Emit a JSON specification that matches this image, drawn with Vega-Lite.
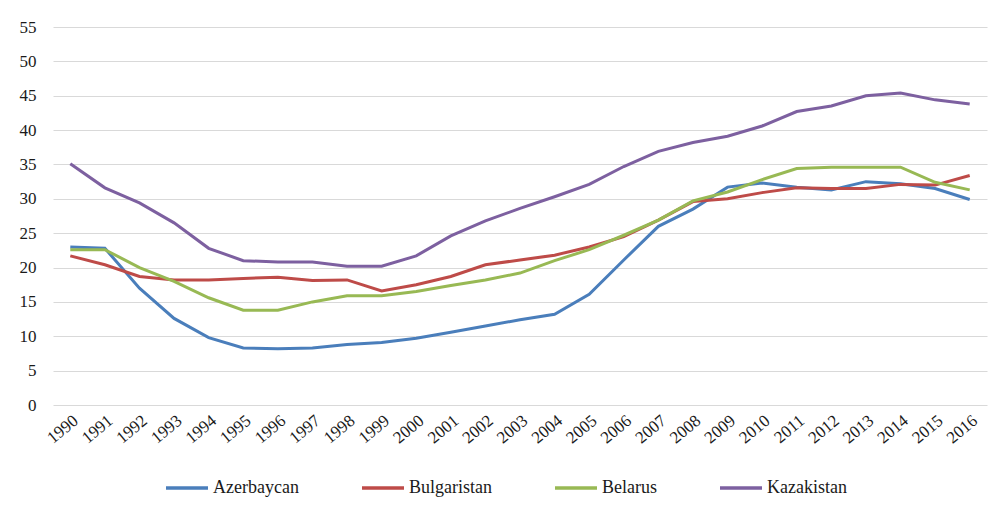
{
  "$schema": "https://vega.github.io/schema/vega-lite/v6.json",
  "width": 934,
  "height": 378,
  "autosize": {"type": "none"},
  "padding": {"left": 53, "top": 27, "right": 13, "bottom": 110},
  "background": "white",
  "config": {"view": {"stroke": null}, "font": "'Times New Roman', 'Liberation Serif', 'DejaVu Serif', serif",
             "axis": {"labelFont": "'Times New Roman', 'Liberation Serif', 'DejaVu Serif', serif"},
             "legend": {"labelFont": "'Times New Roman', 'Liberation Serif', 'DejaVu Serif', serif"}},
  "data": {"values": [
    {"year": "1990", "country": "Azerbaycan", "value": 23.0},
    {"year": "1991", "country": "Azerbaycan", "value": 22.8},
    {"year": "1992", "country": "Azerbaycan", "value": 17.0},
    {"year": "1993", "country": "Azerbaycan", "value": 12.6},
    {"year": "1994", "country": "Azerbaycan", "value": 9.8},
    {"year": "1995", "country": "Azerbaycan", "value": 8.3},
    {"year": "1996", "country": "Azerbaycan", "value": 8.2},
    {"year": "1997", "country": "Azerbaycan", "value": 8.3},
    {"year": "1998", "country": "Azerbaycan", "value": 8.8},
    {"year": "1999", "country": "Azerbaycan", "value": 9.1},
    {"year": "2000", "country": "Azerbaycan", "value": 9.7},
    {"year": "2001", "country": "Azerbaycan", "value": 10.6},
    {"year": "2002", "country": "Azerbaycan", "value": 11.5},
    {"year": "2003", "country": "Azerbaycan", "value": 12.4},
    {"year": "2004", "country": "Azerbaycan", "value": 13.2},
    {"year": "2005", "country": "Azerbaycan", "value": 16.1},
    {"year": "2006", "country": "Azerbaycan", "value": 21.1},
    {"year": "2007", "country": "Azerbaycan", "value": 26.0},
    {"year": "2008", "country": "Azerbaycan", "value": 28.5},
    {"year": "2009", "country": "Azerbaycan", "value": 31.7},
    {"year": "2010", "country": "Azerbaycan", "value": 32.3},
    {"year": "2011", "country": "Azerbaycan", "value": 31.7},
    {"year": "2012", "country": "Azerbaycan", "value": 31.3},
    {"year": "2013", "country": "Azerbaycan", "value": 32.5},
    {"year": "2014", "country": "Azerbaycan", "value": 32.2},
    {"year": "2015", "country": "Azerbaycan", "value": 31.5},
    {"year": "2016", "country": "Azerbaycan", "value": 29.9},
    {"year": "1990", "country": "Bulgaristan", "value": 21.7},
    {"year": "1991", "country": "Bulgaristan", "value": 20.4},
    {"year": "1992", "country": "Bulgaristan", "value": 18.7},
    {"year": "1993", "country": "Bulgaristan", "value": 18.2},
    {"year": "1994", "country": "Bulgaristan", "value": 18.2},
    {"year": "1995", "country": "Bulgaristan", "value": 18.4},
    {"year": "1996", "country": "Bulgaristan", "value": 18.6},
    {"year": "1997", "country": "Bulgaristan", "value": 18.1},
    {"year": "1998", "country": "Bulgaristan", "value": 18.2},
    {"year": "1999", "country": "Bulgaristan", "value": 16.6},
    {"year": "2000", "country": "Bulgaristan", "value": 17.5},
    {"year": "2001", "country": "Bulgaristan", "value": 18.7},
    {"year": "2002", "country": "Bulgaristan", "value": 20.4},
    {"year": "2003", "country": "Bulgaristan", "value": 21.1},
    {"year": "2004", "country": "Bulgaristan", "value": 21.8},
    {"year": "2005", "country": "Bulgaristan", "value": 23.0},
    {"year": "2006", "country": "Bulgaristan", "value": 24.5},
    {"year": "2007", "country": "Bulgaristan", "value": 26.9},
    {"year": "2008", "country": "Bulgaristan", "value": 29.6},
    {"year": "2009", "country": "Bulgaristan", "value": 30.0},
    {"year": "2010", "country": "Bulgaristan", "value": 30.9},
    {"year": "2011", "country": "Bulgaristan", "value": 31.6},
    {"year": "2012", "country": "Bulgaristan", "value": 31.5},
    {"year": "2013", "country": "Bulgaristan", "value": 31.5},
    {"year": "2014", "country": "Bulgaristan", "value": 32.1},
    {"year": "2015", "country": "Bulgaristan", "value": 32.0},
    {"year": "2016", "country": "Bulgaristan", "value": 33.4},
    {"year": "1990", "country": "Belarus", "value": 22.6},
    {"year": "1991", "country": "Belarus", "value": 22.6},
    {"year": "1992", "country": "Belarus", "value": 20.0},
    {"year": "1993", "country": "Belarus", "value": 18.0},
    {"year": "1994", "country": "Belarus", "value": 15.6},
    {"year": "1995", "country": "Belarus", "value": 13.8},
    {"year": "1996", "country": "Belarus", "value": 13.8},
    {"year": "1997", "country": "Belarus", "value": 15.0},
    {"year": "1998", "country": "Belarus", "value": 15.9},
    {"year": "1999", "country": "Belarus", "value": 15.9},
    {"year": "2000", "country": "Belarus", "value": 16.5},
    {"year": "2001", "country": "Belarus", "value": 17.4},
    {"year": "2002", "country": "Belarus", "value": 18.2},
    {"year": "2003", "country": "Belarus", "value": 19.2},
    {"year": "2004", "country": "Belarus", "value": 21.0},
    {"year": "2005", "country": "Belarus", "value": 22.6},
    {"year": "2006", "country": "Belarus", "value": 24.7},
    {"year": "2007", "country": "Belarus", "value": 26.9},
    {"year": "2008", "country": "Belarus", "value": 29.7},
    {"year": "2009", "country": "Belarus", "value": 31.0},
    {"year": "2010", "country": "Belarus", "value": 32.8},
    {"year": "2011", "country": "Belarus", "value": 34.4},
    {"year": "2012", "country": "Belarus", "value": 34.6},
    {"year": "2013", "country": "Belarus", "value": 34.6},
    {"year": "2014", "country": "Belarus", "value": 34.6},
    {"year": "2015", "country": "Belarus", "value": 32.4},
    {"year": "2016", "country": "Belarus", "value": 31.3},
    {"year": "1990", "country": "Kazakistan", "value": 35.1},
    {"year": "1991", "country": "Kazakistan", "value": 31.6},
    {"year": "1992", "country": "Kazakistan", "value": 29.4},
    {"year": "1993", "country": "Kazakistan", "value": 26.5},
    {"year": "1994", "country": "Kazakistan", "value": 22.8},
    {"year": "1995", "country": "Kazakistan", "value": 21.0},
    {"year": "1996", "country": "Kazakistan", "value": 20.8},
    {"year": "1997", "country": "Kazakistan", "value": 20.8},
    {"year": "1998", "country": "Kazakistan", "value": 20.2},
    {"year": "1999", "country": "Kazakistan", "value": 20.2},
    {"year": "2000", "country": "Kazakistan", "value": 21.7},
    {"year": "2001", "country": "Kazakistan", "value": 24.6},
    {"year": "2002", "country": "Kazakistan", "value": 26.8},
    {"year": "2003", "country": "Kazakistan", "value": 28.6},
    {"year": "2004", "country": "Kazakistan", "value": 30.3},
    {"year": "2005", "country": "Kazakistan", "value": 32.1},
    {"year": "2006", "country": "Kazakistan", "value": 34.7},
    {"year": "2007", "country": "Kazakistan", "value": 36.9},
    {"year": "2008", "country": "Kazakistan", "value": 38.2},
    {"year": "2009", "country": "Kazakistan", "value": 39.1},
    {"year": "2010", "country": "Kazakistan", "value": 40.6},
    {"year": "2011", "country": "Kazakistan", "value": 42.7},
    {"year": "2012", "country": "Kazakistan", "value": 43.5},
    {"year": "2013", "country": "Kazakistan", "value": 45.0},
    {"year": "2014", "country": "Kazakistan", "value": 45.4},
    {"year": "2015", "country": "Kazakistan", "value": 44.4},
    {"year": "2016", "country": "Kazakistan", "value": 43.8}
  ]},
  "mark": {"type": "line", "strokeWidth": 3},
  "encoding": {
    "x": {
      "field": "year", "type": "ordinal",
      "scale": {"type": "point", "padding": 0.5},
      "axis": {"title": null, "labelAngle": -40, "domain": false, "ticks": false, "grid": false,
               "labelFontSize": 17, "labelColor": "#1a1a1a", "labelPadding": 7}
    },
    "y": {
      "field": "value", "type": "quantitative",
      "scale": {"domain": [0, 55], "nice": false},
      "axis": {"title": null, "values": [0, 5, 10, 15, 20, 25, 30, 35, 40, 45, 50, 55],
               "domain": false, "ticks": false, "gridColor": "#d9d9d9", "gridWidth": 1,
               "labelFontSize": 17, "labelColor": "#1a1a1a", "labelPadding": 17}
    },
    "color": {
      "field": "country", "type": "nominal",
      "scale": {"domain": ["Azerbaycan", "Bulgaristan", "Belarus", "Kazakistan"],
                "range": ["#4a7ebb", "#be4b48", "#98b954", "#7d60a0"]},
      "legend": {"orient": "none", "legendX": 111, "legendY": 438, "padding": 0,
                 "direction": "horizontal", "title": null,
                 "symbolType": "stroke", "symbolSize": 1764, "symbolStrokeWidth": 3.5,
                 "labelFontSize": 18, "labelColor": "#1a1a1a",
                 "labelOffset": 3, "columnPadding": 56}
    }
  }
}
